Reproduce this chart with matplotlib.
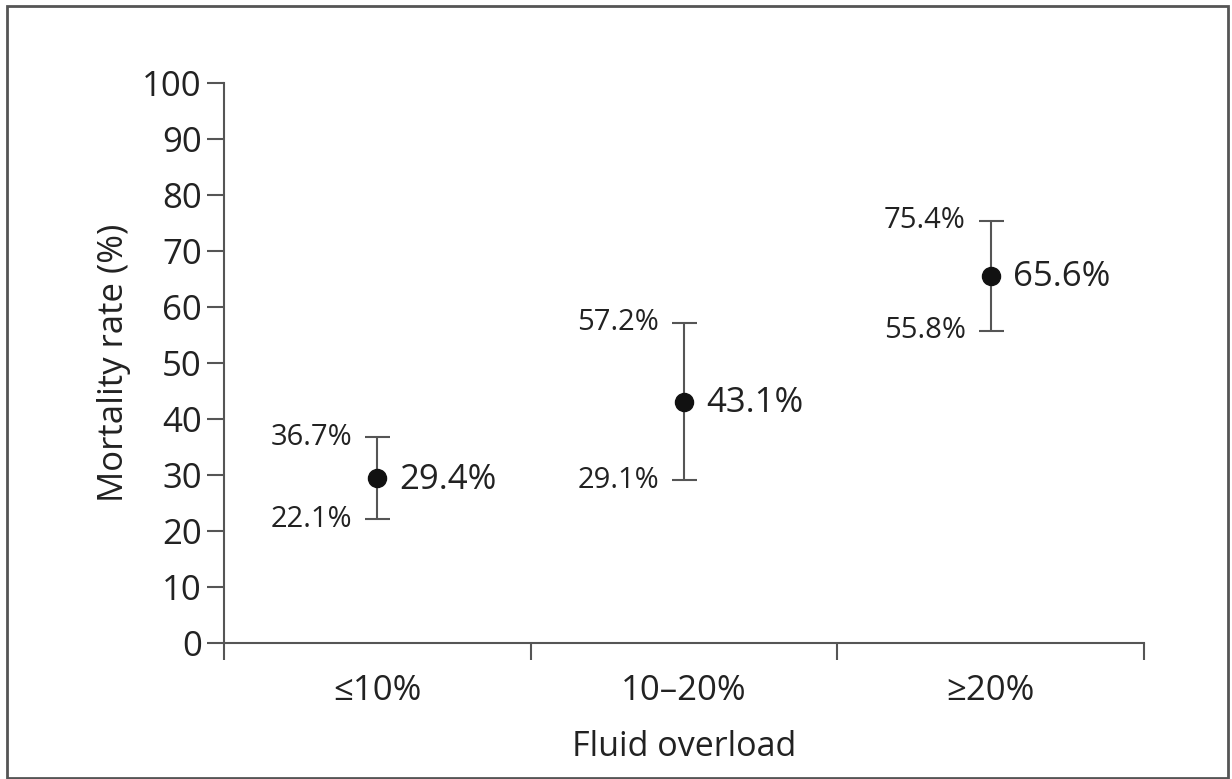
import matplotlib
matplotlib.use("Agg")
import matplotlib.pyplot as plt
from matplotlib.patches import Rectangle

plt.rcParams['font.family'] = ['Open Sans', 'DejaVu Sans']

groups = ["≤10%", "10–20%", "≥20%"]
mortality = [29.4, 43.1, 65.6]
ci_low = [22.1, 29.1, 55.8]
ci_high = [36.7, 57.2, 75.4]

line_col = "#555555"
text_col = "#222222"

fig = plt.figure(figsize=(12.32, 7.79), dpi=100)
ax = fig.add_axes([224 / 1232, 136 / 779, 920 / 1232, 560 / 779])

xs = [i + 0.5 for i in range(len(groups))]
yerr = [[m - lo for m, lo in zip(mortality, ci_low)],
        [hi - m for m, hi in zip(mortality, ci_high)]]
ax.errorbar(xs, mortality, yerr=yerr, fmt="none", ecolor=line_col,
            elinewidth=1.5, capsize=9, capthick=1.5, zorder=2)
ax.plot(xs, mortality, "o", color="#111111", markersize=13, zorder=3)

for x, m, lo, hi in zip(xs, mortality, ci_low, ci_high):
    ax.annotate(f"{hi}%", (x, hi), xytext=(-18, 0), textcoords="offset points",
                ha="right", va="center", fontsize=21, color=text_col)
    ax.annotate(f"{lo}%", (x, lo), xytext=(-18, 0), textcoords="offset points",
                ha="right", va="center", fontsize=21, color=text_col)
    ax.annotate(f"{m}%", (x, m), xytext=(16, -1), textcoords="offset points",
                ha="left", va="center", fontsize=25, color=text_col)

ax.set_xlim(0, 3)
ax.set_ylim(0, 100)
ax.set_yticks(range(0, 101, 10))
ax.set_xticks([0, 1, 2, 3])
ax.set_xticklabels([])
ax.set_xticks(xs, minor=True)
ax.set_xticklabels(groups, minor=True)
ax.tick_params(axis="x", which="major", direction="out", length=12,
               width=1.5, color=line_col)
ax.tick_params(axis="x", which="minor", length=0, pad=22,
               labelsize=25, labelcolor=text_col)
ax.tick_params(axis="y", direction="out", length=12, width=1.5,
               color=line_col, pad=4, labelsize=25, labelcolor=text_col)

for side in ["top", "right"]:
    ax.spines[side].set_visible(False)
for side in ["left", "bottom"]:
    ax.spines[side].set_color(line_col)
    ax.spines[side].set_linewidth(1.5)

ax.set_ylabel("Mortality rate (%)", fontsize=25, color=text_col, labelpad=8)
ax.set_xlabel("Fluid overload", fontsize=24.5, color=text_col, labelpad=16)

# frame around the whole figure
fig.patches.append(Rectangle((7 / 1232, 1 / 779), 1221 / 1232, 772 / 779,
                             transform=fig.transFigure, fill=False,
                             edgecolor="#555555", linewidth=2))

fig.savefig("out.png", dpi=100, facecolor="white")
